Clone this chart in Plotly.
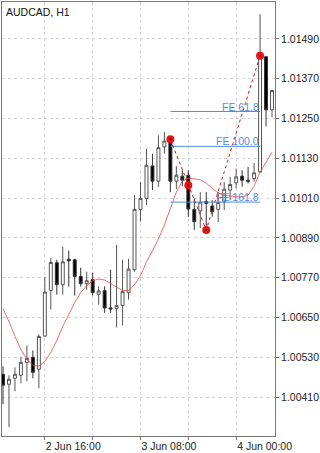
import plotly.graph_objects as go

# ---- data (AUDCAD H1, 2 Jun 09:00 -> 4 Jun 06:00) ----
opens  = [1.00479,1.00449,1.00467,1.00476,1.00515,1.00530,1.00494,1.00594,1.00732,1.00815,
          1.00749,1.00826,1.00824,1.00774,1.00752,1.00764,1.00720,1.00731,1.00679,1.00677,
          1.00686,1.00725,1.00794,1.00976,1.01009,1.01107,1.01061,1.01164,1.01186,1.01061,
          1.01076,1.01079,1.00976,1.00971,1.01000,1.00986,1.00976,1.00999,1.01034,1.01056,
          1.01076,1.01064,1.01069,1.01089,1.01436,1.01276]
highs  = [1.00503,1.00476,1.00500,1.00530,1.00566,1.00551,1.00599,1.00773,1.00830,1.00824,
          1.00863,1.00852,1.00827,1.00800,1.00788,1.00785,1.00744,1.00744,1.00794,1.00869,
          1.00824,1.00827,1.01019,1.01059,1.01159,1.01144,1.01199,1.01209,1.01196,1.01106,
          1.01094,1.01094,1.01009,1.01028,1.01028,1.01004,1.01028,1.01058,1.01074,1.01099,
          1.01094,1.01104,1.01116,1.01564,1.01439,1.01337]
lows   = [1.00389,1.00320,1.00428,1.00452,1.00458,1.00467,1.00437,1.00593,1.00674,1.00719,
          1.00719,1.00743,1.00716,1.00743,1.00734,1.00716,1.00689,1.00664,1.00664,1.00620,
          1.00626,1.00704,1.00788,1.00939,1.00989,1.01034,1.01044,1.01144,1.01028,1.01037,
          1.01046,1.00953,1.00914,1.00920,1.00914,1.00954,1.00938,1.00974,1.01004,1.01039,
          1.01044,1.01054,1.01059,1.01086,1.01226,1.01254]
closes = [1.00446,1.00464,1.00479,1.00515,1.00527,1.00485,1.00593,1.00727,1.00816,1.00749,
          1.00818,1.00821,1.00774,1.00752,1.00761,1.00725,1.00730,1.00679,1.00676,1.00686,
          1.00728,1.00796,1.00976,1.01009,1.01109,1.01061,1.01162,1.01182,1.01061,1.01079,
          1.01064,1.00977,1.00939,1.00998,1.00994,1.00969,1.00997,1.01037,1.01051,1.01074,
          1.01064,1.01061,1.01086,1.01439,1.01276,1.01334]
ma     = [1.00677,1.00638,1.00593,1.00554,1.00524,1.00506,1.00504,1.00518,1.00545,1.00581,
          1.00623,1.00659,1.00695,1.00725,1.00746,1.00761,1.00766,1.00763,1.00752,1.00740,
          1.00731,1.00731,1.00749,1.00776,1.00818,1.00851,1.00887,1.00929,1.00980,1.01028,
          1.01061,1.01070,1.01068,1.01065,1.01055,1.01040,1.01025,1.01019,1.01016,1.01014,
          1.01014,1.01019,1.01046,1.01088,1.01118,1.01148]

# zigzag / fibo expansion points (bar index, price)
zz_x = [28, 31, 34, 43]
zz_y = [1.01187, 1.01049, 1.00914, 1.01439]
fe_labels = ["FE 61.8", "FE 100.0", "FE 161.8"]
fe_levels = [1.01271, 1.01166, 1.00998]
fe_start, fe_end = 28, 43

x_tickvals = [7, 15, 23, 31, 39]
x_ticktext = ["2 Jun 16:00", "", "3 Jun 08:00", "", "4 Jun 00:00"]
y_tickvals = [1.00410, 1.00530, 1.00650, 1.00770, 1.00890, 1.01010, 1.01130, 1.01250, 1.01370, 1.01490]

xs = list(range(len(opens)))
FONT = "Liberation Sans, Arial, sans-serif"
BLUE = "#4f8fe6"

fig = go.Figure()
fig.add_trace(go.Scatter(x=xs, y=ma, mode="lines",
                         line=dict(color="rgba(235,60,60,0.85)", width=0.9),
                         hoverinfo="skip", showlegend=False))
fig.add_trace(go.Candlestick(
    x=xs, open=opens, high=highs, low=lows, close=closes,
    increasing=dict(line=dict(color="#555555", width=1), fillcolor="#ffffff"),
    decreasing=dict(line=dict(color="#333333", width=1), fillcolor="#000000"),
    whiskerwidth=0, showlegend=False))

for lab, lev in zip(fe_labels, fe_levels):
    fig.add_trace(go.Scatter(x=[fe_start, fe_end], y=[lev, lev], mode="lines",
                             line=dict(color=BLUE, width=1), showlegend=False, hoverinfo="skip"))
    fig.add_annotation(x=fe_end, y=lev, text=lab, showarrow=False, xanchor="right",
                       yanchor="bottom", yshift=-3, xshift=1,
                       font=dict(family=FONT, size=10.5, color=BLUE))

fig.add_trace(go.Scatter(x=zz_x, y=zz_y, mode="lines",
                         line=dict(color="#ee1111", width=1, dash="3px,3px"),
                         showlegend=False, hoverinfo="skip"))
fig.add_trace(go.Scatter(x=zz_x, y=zz_y, mode="markers",
                         marker=dict(color="#ee1111", size=8, line=dict(width=0)),
                         showlegend=False, hoverinfo="skip"))
fig.add_trace(go.Scatter(x=zz_x, y=zz_y, mode="markers",
                         marker=dict(color="#330000", size=2, line=dict(width=0)),
                         showlegend=False, hoverinfo="skip"))

fig.add_annotation(xref="paper", yref="paper", x=0, y=1, xanchor="left", yanchor="top",
                   xshift=2, yshift=-2, text="AUDCAD, H1", showarrow=False,
                   font=dict(family=FONT, size=10.5, color="#111111"))

fig.update_layout(
    width=320, height=453, margin=dict(l=1, r=45, t=1, b=16),
    paper_bgcolor="white", plot_bgcolor="white",
    font=dict(family=FONT, size=10.5, color="#222222"),
    xaxis=dict(range=[-0.167, 45.5], rangeslider=dict(visible=False),
               tickvals=x_tickvals, ticktext=x_ticktext, ticks="outside", ticklen=3,
               tickcolor="#777777", ticklabelposition="outside right",
               showgrid=True, gridcolor="#d6d6d6", griddash="3px,3px", gridwidth=1,
               showline=True, linecolor="#777777", linewidth=1, mirror=True,
               zeroline=False, tickfont=dict(size=10.5, color="#222222")),
    yaxis=dict(range=[1.00293, 1.01601], side="right", tickvals=y_tickvals,
               ticktext=[f"{v:.5f}" for v in y_tickvals], ticks="outside", ticklen=3,
               tickcolor="#777777",
               showgrid=True, gridcolor="#d6d6d6", griddash="3px,3px", gridwidth=1,
               showline=True, linecolor="#777777", linewidth=1, mirror=True,
               zeroline=False, tickfont=dict(size=10.5, color="#222222")),
)

fig.write_html("out.html")
